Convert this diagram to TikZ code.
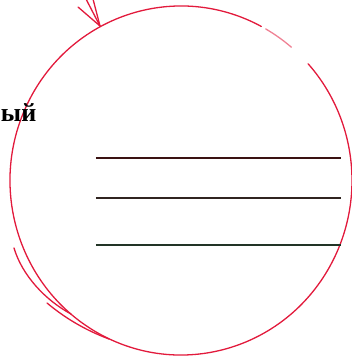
\documentclass[tikz,border=0pt]{standalone}
\usepackage{fontspec}
\setmainfont{Liberation Serif}
\definecolor{PenRed}{RGB}{226,26,60}
\definecolor{RuleOne}{RGB}{58,18,18}
\definecolor{RuleTwo}{RGB}{48,36,32}
\definecolor{RuleThree}{RGB}{34,52,38}

\begin{document}
\begin{tikzpicture}[
  x=1pt, y=1pt,
  pen/.style={PenRed, line width=1.3pt, line cap=round},
  faint/.style={pen, opacity=0.55},
  rule/.style={line width=1.6pt},
  word/.style={font=\bfseries\fontsize{26}{26}\selectfont, inner sep=0pt}
]
\useasboundingbox (0,0) rectangle (352,360);

% Hand-drawn circle
\coordinate (centre) at (181,179.5);
\draw[pen] (centre) ++(62:171 and 174.5) arc[start angle=62, end angle=402, x radius=171, y radius=174.5];
\draw[faint] (centre) ++(49.8:171 and 174.5) arc[start angle=49.8, end angle=60.3, x radius=171, y radius=174.5];

% Extra strokes at lower left
\draw[pen] (14,112) .. controls (22,85) and (45,60) .. (71,46);
\draw[pen] (47,57) .. controls (65,42) and (85,30) .. (109,21);

% Arrow strokes at top
\coordinate (tip) at (100,334);
\coordinate (s1) at (78,353);
\coordinate (s2) at (86,361);
\coordinate (s3) at (93,361);
\foreach \s in {s1,s2,s3}
  \draw[pen] (\s) -- (tip);

% Word
\node[word, anchor=base west] (word) at (0.8,239) {ый};

% Lines
\coordinate (l1a) at (96,202); \coordinate (l1b) at (341,202);
\coordinate (l2a) at (96,162); \coordinate (l2b) at (341,162);
\coordinate (l3a) at (96,115); \coordinate (l3b) at (341,115);
\draw[rule, RuleOne] (l1a) -- (l1b);
\draw[rule, RuleTwo] (l2a) -- (l2b);
\draw[rule, RuleThree] (l3a) -- (l3b);

\end{tikzpicture}
\end{document}
